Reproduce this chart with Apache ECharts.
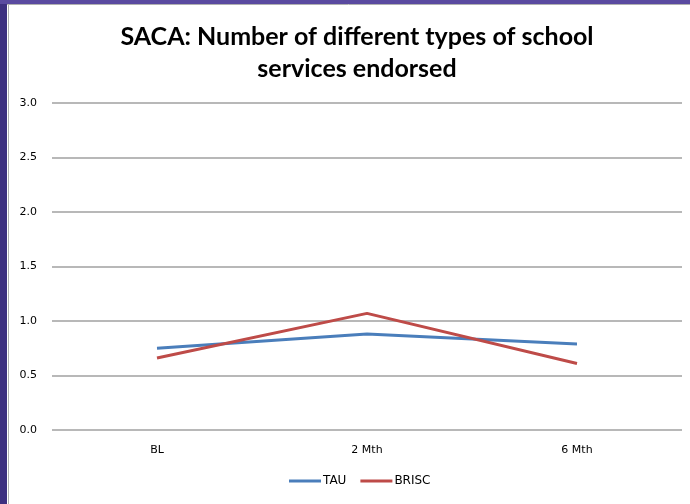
<!DOCTYPE html>
<html><head><meta charset="utf-8">
<script src="https://cdn.jsdelivr.net/npm/echarts@6/dist/echarts.min.js"></script>
<style>
html,body{margin:0;padding:0;background:#fff;}
#c{width:690px;height:504px;}
</style></head>
<body><div id="c"></div>
<script>
const categories = ['BL', '2 Mth', '6 Mth'];
const tauValues = [0.75, 0.88, 0.79];
const briscValues = [0.66, 1.07, 0.61];
const yTicks = [0, 0.5, 1.0, 1.5, 2.0, 2.5, 3.0];

const chart = echarts.init(document.getElementById('c'));
chart.setOption({
  animation: false,
  backgroundColor: '#fff',
  title: {
    text: 'SACA: Number of different types of school\nservices endorsed',
    left: 352, top: 16, textAlign: 'center',
    textStyle: { fontFamily: 'Lato', fontWeight: 'bold', fontSize: 25, lineHeight: 32, color: '#000' }
  },
  graphic: [
    { type: 'rect', shape: { x: 0, y: 0, width: 7, height: 504 }, style: { fill: '#3d3080' }, z: 100 },
    { type: 'rect', shape: { x: 0, y: 0, width: 690, height: 4 }, style: { fill: '#5a4aa0' }, z: 100 },
    { type: 'line', shape: { x1: 8.5, y1: 4, x2: 8.5, y2: 504 }, style: { stroke: '#b0b0b0', lineWidth: 1 }, z: 100 },
    { type: 'line', shape: { x1: 7, y1: 4.5, x2: 690, y2: 4.5 }, style: { stroke: '#b0b0b0', lineWidth: 1 }, z: 100 }
  ],
  grid: { left: 52, right: 8, top: 103, bottom: 74 },
  legend: {
    data: ['TAU', 'BRISC'], bottom: 12, left: 284,
    itemWidth: 32, itemHeight: 3, itemGap: 14,
    icon: 'rect',
    textStyle: { fontFamily: 'DejaVu Sans', fontSize: 12, color: '#000', padding: [0,0,0,-3] }
  },
  xAxis: {
    type: 'category', data: categories, boundaryGap: true,
    axisLine: { show: false }, axisTick: { show: false },
    axisLabel: { fontFamily: 'DejaVu Sans', fontSize: 11, color: '#000', margin: 15 }
  },
  yAxis: {
    type: 'value', min: 0, max: 3, interval: 0.5,
    axisLine: { show: false }, axisTick: { show: false },
    axisLabel: { fontFamily: 'DejaVu Sans', fontSize: 11, color: '#000', margin: 15,
      formatter: v => v.toFixed(1) },
    splitLine: { lineStyle: { color: '#a0a0a0', width: 1.5 } }
  },
  series: [
    { name: 'TAU', type: 'line', data: tauValues, symbol: 'none',
      itemStyle: { color: '#4a7ebb' }, lineStyle: { color: '#4a7ebb', width: 3 } },
    { name: 'BRISC', type: 'line', data: briscValues, symbol: 'none',
      itemStyle: { color: '#be4b48' }, lineStyle: { color: '#be4b48', width: 3 } }
  ]
});
</script></body></html>
